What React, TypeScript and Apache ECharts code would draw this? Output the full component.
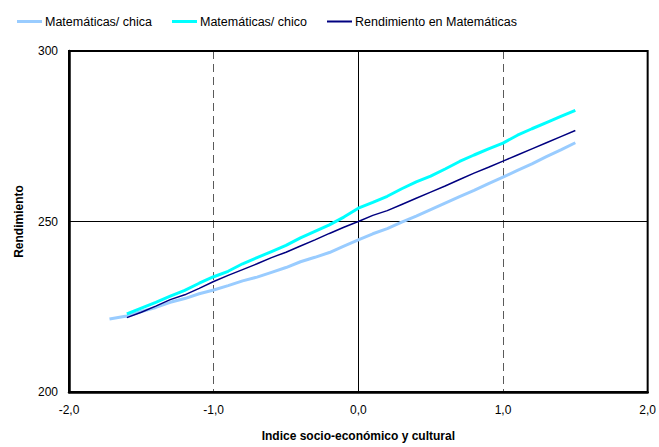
import React, { useEffect, useRef } from "react";
import * as echarts from "echarts";

const chicaX = [-1.72, -1.6, -1.5, -1.4, -1.3, -1.2, -1.1, -1.0, -0.9, -0.8, -0.7, -0.6, -0.5, -0.4, -0.3, -0.2, -0.1, 0.0, 0.1, 0.2, 0.3, 0.4, 0.5, 0.6, 0.7, 0.8, 0.9, 1.0, 1.1, 1.2, 1.3, 1.4, 1.5];
const chicaY = [221.4, 222.3, 223.6, 224.8, 226.3, 227.4, 228.8, 229.9, 231.2, 232.6, 233.7, 235.1, 236.5, 238.2, 239.5, 240.9, 242.8, 244.6, 246.4, 247.9, 249.8, 251.6, 253.5, 255.4, 257.3, 259.1, 261.1, 263.0, 265.0, 266.9, 269.0, 271.0, 273.1];

const chicoX = [-1.6, -1.5, -1.4, -1.3, -1.2, -1.1, -1.0, -0.9, -0.8, -0.7, -0.6, -0.5, -0.4, -0.3, -0.2, -0.1, 0.0, 0.1, 0.2, 0.3, 0.4, 0.5, 0.6, 0.7, 0.8, 0.9, 1.0, 1.1, 1.2, 1.3, 1.4, 1.5];
const chicoY = [222.9, 224.6, 226.3, 228.1, 229.8, 231.9, 233.8, 235.4, 237.6, 239.4, 241.2, 243.0, 245.2, 247.1, 249.0, 251.3, 253.9, 255.6, 257.4, 259.6, 261.6, 263.3, 265.4, 267.6, 269.5, 271.3, 273.0, 275.3, 277.2, 279.0, 280.8, 282.6];

const totalX = [-1.6, -1.5, -1.4, -1.3, -1.2, -1.1, -1.0, -0.9, -0.8, -0.7, -0.6, -0.5, -0.4, -0.3, -0.2, -0.1, 0.0, 0.1, 0.2, 0.3, 0.4, 0.5, 0.6, 0.7, 0.8, 0.9, 1.0, 1.1, 1.2, 1.3, 1.4, 1.5];
const totalY = [221.8, 223.4, 225.2, 227.1, 228.5, 230.4, 232.4, 234.2, 235.9, 237.6, 239.4, 241.0, 242.8, 244.6, 246.5, 248.3, 250.0, 251.8, 253.2, 255.0, 256.8, 258.6, 260.4, 262.3, 264.2, 265.9, 267.7, 269.5, 271.3, 273.1, 274.9, 276.7];

const seriesNames = ["Matemáticas/ chica", "Matemáticas/ chico", "Rendimiento en Matemáticas"];
const seriesColors = ["#99CCFF", "#00FFFF", "#000080"];
const seriesWidths = [3, 3, 1.5];
const legendLefts = [12, 167, 322];

const xMin = -2;
const xMax = 2;
const yMin = 200;
const yMax = 300;
const refX = 0;
const refY = 250;

const zip = (xs: number[], ys: number[]) => xs.map((x, i) => [x, ys[i]]);

export default function App() {
  const ref = useRef<HTMLDivElement>(null);
  useEffect(() => {
    if (!ref.current) return;
    const chart = echarts.init(ref.current, undefined, { renderer: "svg" });
    const font = "Liberation Sans, Arial, sans-serif";
    const datas = [zip(chicaX, chicaY), zip(chicoX, chicoY), zip(totalX, totalY)];
    chart.setOption({
      animation: false,
      backgroundColor: "#ffffff",
      textStyle: { fontFamily: font },
      legend: seriesNames.map((n, i) => ({
        data: [n],
        left: legendLefts[i],
        top: 10,
        icon: "rect",
        itemWidth: 25,
        itemHeight: seriesWidths[i] === 3 ? 3 : 2,
        itemGap: 25,
        textStyle: { fontFamily: font, fontSize: 12.5, color: "#000", padding: [0, 0, 0, -2] },
      })),
      grid: {
        left: 69,
        right: 9,
        top: 51,
        bottom: 55,
        show: true,
        borderColor: "#000",
        borderWidth: 2,
        backgroundColor: "transparent",
        z: 5,
      },
      xAxis: {
        type: "value",
        min: xMin,
        max: xMax,
        interval: 1,
        name: "Indice socio-económico y cultural",
        nameLocation: "middle",
        nameGap: 38,
        nameTextStyle: { fontFamily: font, fontSize: 12, fontWeight: "bold", color: "#000" },
        axisLine: { show: true, onZero: false, lineStyle: { color: "#000", width: 2.5 } },
        axisTick: { show: false },
        axisLabel: {
          fontFamily: font,
          fontSize: 12,
          color: "#000",
          margin: 12,
          formatter: (v: number) => v.toFixed(1).replace(".", ","),
        },
        splitLine: { show: true, lineStyle: { color: "#5a5a5a", type: [8, 5], width: 1 } },
      },
      yAxis: {
        type: "value",
        min: yMin,
        max: yMax,
        interval: 50,
        name: "Rendimiento",
        nameLocation: "middle",
        nameGap: 44,
        nameTextStyle: { fontFamily: font, fontSize: 12, fontWeight: "bold", color: "#000" },
        axisLine: { show: true, onZero: false, lineStyle: { color: "#000", width: 2.5 } },
        axisTick: { show: false },
        axisLabel: { fontFamily: font, fontSize: 12, color: "#000", margin: 11 },
        splitLine: { show: false },
      },
      series: seriesNames.map((n, i) => ({
        name: n,
        type: "line",
        data: datas[i],
        showSymbol: false,
        symbol: "none",
        color: seriesColors[i],
        lineStyle: { color: seriesColors[i], width: seriesWidths[i] },
        z: 3 + (i === 2 ? 1 : 0),
        markLine:
          i === 0
            ? {
                silent: true,
                symbol: "none",
                label: { show: false },
                lineStyle: { color: "#000", type: "solid", width: 1 },
                z: 1,
                data: [{ xAxis: refX }, { yAxis: refY }],
              }
            : undefined,
      })),
    });
    return () => chart.dispose();
  }, []);
  return <div ref={ref} style={{ width: 659, height: 447, position: "absolute", left: 0, top: 0 }} />;
}
